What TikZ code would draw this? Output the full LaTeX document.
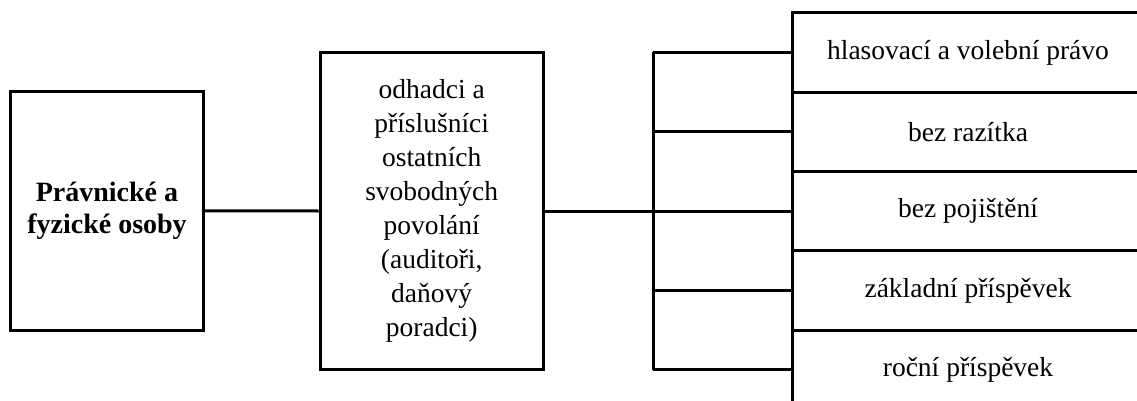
\documentclass[tikz,border=0pt]{standalone}
\usepackage{fontspec}
\setmainfont{Liberation Serif}
\begin{document}
\begin{tikzpicture}[x=1pt, y=-1pt, line width=3pt,
  box/.style={draw, line width=3pt, align=center, inner sep=0pt,
    font=\fontsize{27.5}{34}\selectfont},
  rowbox/.style={box, minimum width=352pt, minimum height=79.33pt},
  link/.style={draw, line width=3pt}]
\useasboundingbox (0,0) rectangle (1137,401);
\clip (0,0) rectangle (1137,401);

% left and middle boxes
\node[box, minimum width=192.6pt, minimum height=238.3pt,
      font=\fontsize{28}{32}\selectfont\bfseries] (L) at (107,210.9)
  {Právnické a\\fyzické osoby};
\node[box, minimum width=223.3pt, minimum height=316.7pt] (M) at (431.7,211)
  {odhadci a\\příslušníci\\ostatních\\svobodných\\povolání\\(auditoři,\\daňový\\poradci)};

% stack of rows on the right
\node[rowbox] (r1) at (968,52.4)  {hlasovací a volební právo};
\node[rowbox] (r2) at (968,131.7) {bez razítka};
\node[rowbox] (r3) at (968,211)   {bez pojištění};
\node[rowbox] (r4) at (968,290.4) {základní příspěvek};
\node[rowbox] (r5) at (968,369.7) {roční příspěvek};

% connectors
\coordinate (J) at (653.3,211);
\path[link] (L.east) -- (M.west);
\path[link] (M.east) -- (J);
\path[link] (J |- r1.west) -- (J |- r5.west);
\foreach \r in {r1,r2,r3,r4,r5}
  \path[link] (J |- \r.west) -- (\r.west);
\end{tikzpicture}
\end{document}
